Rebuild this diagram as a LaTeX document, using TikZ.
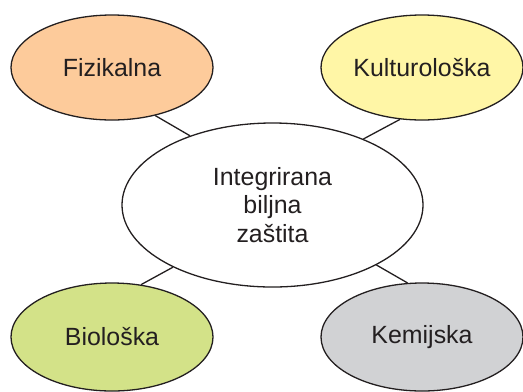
\documentclass[tikz,border=0pt]{standalone}
\usepackage{fontspec}
\setmainfont{Liberation Sans}
\usetikzlibrary{shapes.geometric}
\definecolor{cpeach}{HTML}{FDCB9B}
\definecolor{cyellow}{HTML}{FFF6A6}
\definecolor{cgreen}{HTML}{D3E288}
\definecolor{cgray}{HTML}{D1D2D4}
\definecolor{cline}{HTML}{231F20}
\begin{document}
\begin{tikzpicture}[x=1bp,y=-1bp,
  oval/.style={ellipse, draw=cline, line width=1.3bp, inner sep=0pt,
    minimum width=202bp, minimum height=105bp, text=cline,
    font=\fontsize{25}{29}\selectfont},
  hub/.style={oval, fill=white, minimum width=301bp, minimum height=164bp, align=center},
  link/.style={draw=cline, line width=1.3bp}]
\useasboundingbox (0,0) rectangle (523,391);
\node[hub] (c) at (272.5,205) {Integrirana\\biljna\\zaštita};
\node[oval, fill=cpeach] (f) at (112,67.5) {Fizikalna};
\node[oval, fill=cyellow] (k) at (422,67.5) {Kulturološka};
\node[oval, fill=cgreen, minimum height=108bp] (b) at (112,337) {Biološka};
\node[oval, fill=cgray, minimum height=108bp] (m) at (422,337) {Kemijska};
\draw[link] (f.-48) -- (c.140);
\draw[link] (k.247) -- (c.36);
\draw[link] (b.61) -- (c.212);
\draw[link] (m.105) -- (c.-30);
\end{tikzpicture}
\end{document}
